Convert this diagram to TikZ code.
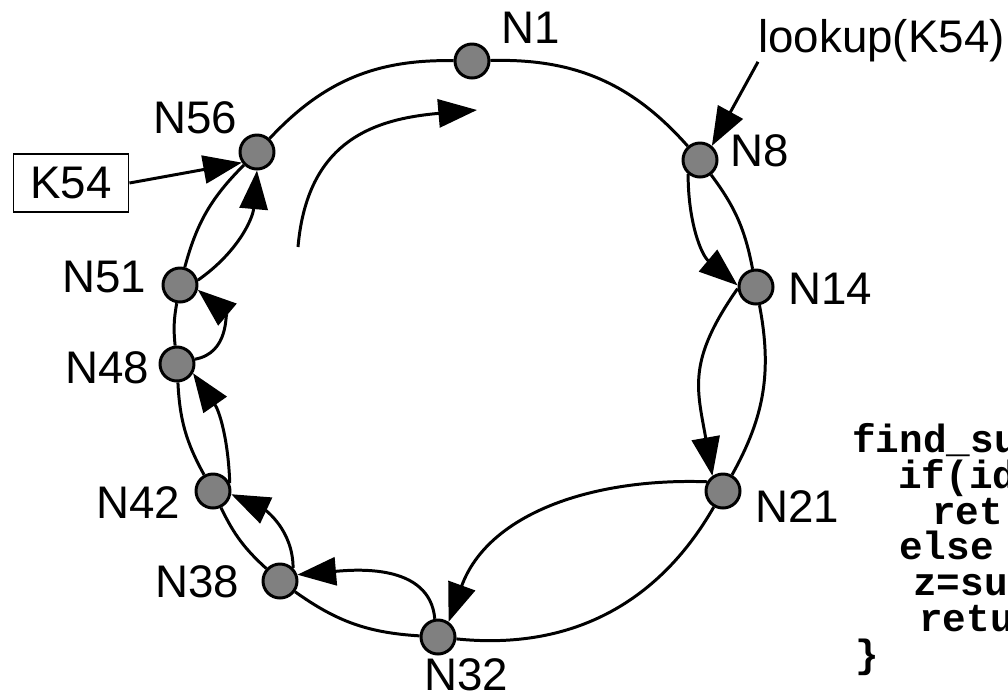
\documentclass[tikz,border=0pt]{standalone}
\usepackage{fontspec}
\setmainfont{Liberation Sans}
\setmonofont{Liberation Mono}
\usetikzlibrary{arrows.meta}

\begin{document}
\begin{tikzpicture}[x=0.02cm, y=-0.02cm,
    peer/.style={circle, draw, line width=1.7pt, fill=gray, minimum size=0.68cm, inner sep=0pt},
    lbl/.style={font=\fontsize{26}{30}\selectfont, inner sep=0pt},
    ring/.style={line width=1.7pt},
    hop/.style={line width=1.7pt, -{Triangle[length=22pt, width=16pt]}},
    code/.style={font=\fontsize{22.4}{26}\selectfont\ttfamily\bfseries, anchor=base west, inner sep=0pt}]
    \useasboundingbox (0,0) rectangle (1008,691);

    % Peers
    \node[peer] (n1) at (472,61) {};
    \node[peer] (n8) at (700,160) {};
    \node[peer] (n14) at (756,287) {};
    \node[peer] (n21) at (723,491) {};
    \node[peer] (n32) at (438,637) {};
    \node[peer] (n38) at (280,581) {};
    \node[peer] (n42) at (213,491) {};
    \node[peer] (n48) at (177,364) {};
    \node[peer] (n51) at (180,285) {};
    \node[peer] (n56) at (257,152) {};

    % Peer labels
    \node[lbl] (l1) at (531,28) {N1};
    \node[lbl] (l8) at (760,151) {N8};
    \node[lbl] (l14) at (830,289) {N14};
    \node[lbl] (l21) at (797,507) {N21};
    \node[lbl] (l32) at (466,675) {N32};
    \node[lbl] (l38) at (197,582) {N38};
    \node[lbl] (l42) at (138,503) {N42};
    \node[lbl] (l48) at (107,368) {N48};
    \node[lbl] (l51) at (104,277) {N51};
    \node[lbl] (l56) at (195,118) {N56};

    % Ring
    \foreach \a/\b/\bnd in {n1/n8/25, n8/n14/13, n14/n21/20, n21/n32/33, n32/n38/16,
                            n38/n42/11, n42/n48/13, n48/n51/8, n51/n56/15, n56/n1/24}
        \draw[ring] (\a) to[bend left=\bnd] (\b);

    % Successor hops
    \draw[hop] (n8.230) to[out=-90, in=140] (n14.175);
    \draw[hop] (n14.185) to[out=235, in=100, looseness=1.2] (n21.125);
    \draw[hop] (n21.150) to[out=178, in=70] (n32.55);
    \draw[hop] (n32.100) to[out=95, in=5] (n38.20);
    \draw[hop] (n38.45) to[out=90, in=-25] (n42.-10);
    \draw[hop] (n42.25) to[out=92, in=-55] (n48.-30);
    \draw[hop] (n48.15) to[out=10, in=-40, looseness=1.3] (n51.-15);
    \draw[hop] (n51.15) to[out=35, in=-95] (n56.-90);

    % Key and query
    \node[lbl, draw, line width=1.1pt, minimum width=2.3cm, minimum height=1.16cm] (k54) at (71,183) {K54};
    \draw[hop] (k54.east) -- (n56.215);
    \node[lbl, anchor=base west] (lookup) at (758,52) {lookup(K54)};
    \draw[hop] (lookup.south west) -- (n8.50);

    % Direction of the ring
    \coordinate (sweep0) at (298,247);
    \coordinate (sweep1) at (477,110);
    \draw[hop] (sweep0) to[out=85, in=185, looseness=1.2] (sweep1);

    % Pseudo code
    \foreach \x/\y/\txt [count=\i] in {852/452/find\_su, 898/488/if(id, 932/524/ret,
                                       899/559/else, 913/595/z=su, 919/631/retu, 855/667/\}}
        \node[code] (code\i) at (\x,\y) {\txt};
\end{tikzpicture}
\end{document}
